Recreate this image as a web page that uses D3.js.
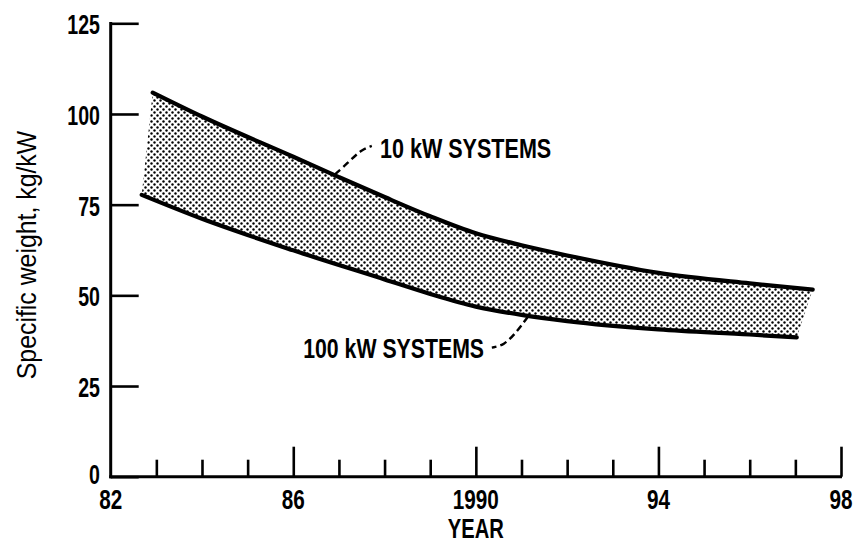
<!DOCTYPE html>
<html>
<head>
<meta charset="utf-8">
<script src="https://cdn.jsdelivr.net/npm/d3@7"></script>
<style>
  html, body { margin: 0; padding: 0; background: #fff; }
  svg { display: block; }
  .cond { font-family: "Liberation Sans", Arial, sans-serif; font-weight: bold; }
</style>
</head>
<body>
<svg id="chart" width="862" height="543"></svg>
<script>
// ---- data ----
const upperYears  = [82.92, 84, 86, 87, 88, 89, 90, 91, 92, 94, 96, 97.38];
const upperValues = [105.9, 99.3, 88.2, 82.6, 77.1, 71.8, 67.1, 63.8, 61.0, 56.2, 53.3, 51.6];
const lowerYears  = [82.68, 84, 86, 88, 89, 90, 91, 92, 94, 96, 97.03];
const lowerValues = [77.7, 71.1, 62.4, 54.4, 50.4, 46.9, 44.6, 42.9, 40.6, 39.2, 38.4];
const yTicks = [0, 25, 50, 75, 100, 125];
const xMajorTicks = [82, 86, 90, 94, 98];
const xTickLabels = ["82", "86", "1990", "94", "98"];
const xMinorTicks = d3.range(83, 98).filter(v => v % 4 !== 2);
const upperLabel = "10 kW SYSTEMS";
const lowerLabel = "100 kW SYSTEMS";
const upperLeaderYears = [86.92, 87.25, 87.5, 87.72];
const upperLeaderValues = [83.4, 87.2, 90.2, 91.2];
const upperLabelPos = [87.9, 90.6];
const lowerLeaderYears = [91.14, 90.9, 90.62, 90.35];
const lowerLeaderValues = [44.1, 40.0, 36.2, 35.6];
const lowerLabelPos = [90.18, 35.5];
const xTitle = "YEAR";
const yTitle = "Specific weight,  kg/kW";

// ---- scales ----
const svg = d3.select("#chart");
const x = d3.scaleLinear().domain([82, 98]).range([110.7, 841]);
const y = d3.scaleLinear().domain([0, 125]).range([476.7, 23.3]);

// stipple pattern
const defs = svg.append("defs");
const pat = defs.append("pattern").attr("id", "dots").attr("patternUnits", "userSpaceOnUse")
  .attr("width", 6).attr("height", 6);
pat.append("circle").attr("cx", 1.5).attr("cy", 1.5).attr("r", 1.2).attr("fill", "#000");
pat.append("circle").attr("cx", 4.5).attr("cy", 4.5).attr("r", 1.2).attr("fill", "#000");

const upper = upperYears.map((d, i) => [d, upperValues[i]]);
const lower = lowerYears.map((d, i) => [d, lowerValues[i]]);

const line = d3.line().x(d => x(d[0])).y(d => y(d[1])).curve(d3.curveMonotoneX);

// band: upper forward, lower reversed
const upperPath = line(upper);
const lowerRevPath = line(lower.slice().reverse());
svg.append("path")
  .attr("d", upperPath + "L" + lowerRevPath.slice(1) + "Z")
  .attr("fill", "url(#dots)").attr("stroke", "none");

svg.append("path").attr("d", upperPath).attr("fill", "none")
  .attr("stroke", "#000").attr("stroke-width", 4.2).attr("stroke-linecap", "round");
svg.append("path").attr("d", line(lower)).attr("fill", "none")
  .attr("stroke", "#000").attr("stroke-width", 4.2).attr("stroke-linecap", "round");

// ---- axes ----
const yAxis = d3.axisRight(y).tickValues(yTicks).tickSize(28).tickFormat("");
const gy = svg.append("g").attr("transform", `translate(${x(82)},0)`).call(yAxis);
gy.select(".domain").remove();
gy.selectAll(".tick line").attr("stroke", "#000").attr("stroke-width", 2.6);
svg.append("line").attr("x1", x(82)).attr("x2", x(82)).attr("y1", y(125) - 1.3).attr("y2", y(0) + 1.5)
  .attr("stroke", "#000").attr("stroke-width", 3);
svg.append("line").attr("x1", x(82) - 1.5).attr("x2", x(98) + 1).attr("y1", y(0)).attr("y2", y(0))
  .attr("stroke", "#000").attr("stroke-width", 3);

const xMinor = d3.axisTop(x).tickValues(xMinorTicks).tickSize(17).tickFormat("");
const gxm = svg.append("g").attr("transform", `translate(0,${y(0)})`).call(xMinor);
gxm.select(".domain").remove();
gxm.selectAll(".tick line").attr("stroke", "#000").attr("stroke-width", 2.6);

const xMajor = d3.axisTop(x).tickValues(xMajorTicks.slice(1)).tickSize(30).tickFormat("");
const gxM = svg.append("g").attr("transform", `translate(0,${y(0)})`).call(xMajor);
gxM.select(".domain").remove();
gxM.selectAll(".tick line").attr("stroke", "#000").attr("stroke-width", 2.6);

// condensed text helper
function condText(sel, px, py, txt, anchor, size, sx, weight) {
  return sel.append("text").attr("class", "cond")
    .attr("transform", `translate(${px},${py}) scale(${sx},1)`)
    .attr("text-anchor", anchor).attr("dominant-baseline", "central")
    .attr("font-size", size).attr("font-weight", weight || "bold")
    .attr("fill", "#000").text(txt);
}

const gyl = svg.append("g");
yTicks.forEach(d => condText(gyl, 100, y(d) + (d === 0 ? -3 : 1), String(d), "end", 28, 0.7));

const gxl = svg.append("g");
xMajorTicks.forEach((d, i) => condText(gxl, x(d), 499, xTickLabels[i], "middle", 28, 0.74));

condText(svg, x(90), 528, xTitle, "middle", 28, 0.72);

svg.append("text")
  .attr("transform", `translate(27,255) rotate(-90) scale(0.92,1)`)
  .attr("text-anchor", "middle").attr("dominant-baseline", "central")
  .attr("font-family", "Liberation Sans, Arial, sans-serif")
  .attr("font-size", 27).attr("fill", "#000").text(yTitle);

// annotations
const leader = d3.line().x(d => x(d[0])).y(d => y(d[1])).curve(d3.curveBasis);
svg.append("path")
  .attr("d", leader(upperLeaderYears.map((d, i) => [d, upperLeaderValues[i]])))
  .attr("fill", "none").attr("stroke", "#000").attr("stroke-width", 2.4).attr("stroke-dasharray", "7,4");
svg.append("path")
  .attr("d", leader(lowerLeaderYears.map((d, i) => [d, lowerLeaderValues[i]])))
  .attr("fill", "none").attr("stroke", "#000").attr("stroke-width", 2.4).attr("stroke-dasharray", "7,4");

condText(svg, x(upperLabelPos[0]), y(upperLabelPos[1]), upperLabel, "start", 28, 0.77);
condText(svg, x(lowerLabelPos[0]), y(lowerLabelPos[1]), lowerLabel, "end", 28, 0.76);
</script>
</body>
</html>
